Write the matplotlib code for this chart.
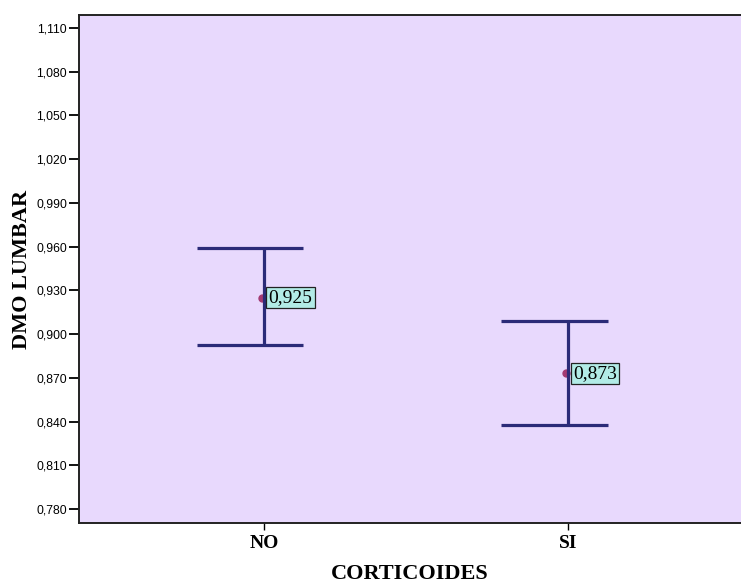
import matplotlib
matplotlib.use("Agg")
import matplotlib.pyplot as plt

categories = ["NO", "SI"]
means = [0.925, 0.873]
upper = [0.959, 0.909]
lower = [0.8925, 0.8375]
mean_labels = ["0,925", "0,873"]
yticks = [0.780, 0.810, 0.840, 0.870, 0.900, 0.930, 0.960, 0.990, 1.020, 1.050, 1.080, 1.110]
ytick_labels = ["0,780", "0,810", "0,840", "0,870", "0,900", "0,930", "0,960", "0,990", "1,020", "1,050", "1,080", "1,110"]

fig = plt.figure(figsize=(7.41, 5.83), dpi=100)
ax = fig.add_axes([79/741, (583-523)/583, (741-79)/741, (523-15)/583])
ax.set_facecolor("#e8d9fd")

xs = [1, 2]
navy = "#2b2b78"
for x, m, lo, hi in zip(xs, means, lower, upper):
    ax.plot([x, x], [lo, hi], color=navy, lw=2.3, solid_capstyle="butt", zorder=3)
    ax.plot([x - 0.22, x + 0.13], [hi, hi], color=navy, lw=2.3, solid_capstyle="butt", zorder=3)
    ax.plot([x - 0.22, x + 0.13], [lo, lo], color=navy, lw=2.3, solid_capstyle="butt", zorder=3)

ax.plot([x - 0.006 for x in xs], means, "o", color="#a33a72", ms=5, zorder=2)
for x, m, lab in zip(xs, means, mean_labels):
    ax.annotate(lab, (x, m), xytext=(3.5, 0), textcoords="offset points",
                ha="left", va="center", fontsize=14, family="Liberation Serif",
                bbox=dict(boxstyle="square,pad=0.12", fc="#b2ebe6", ec="#222222", lw=0.9),
                zorder=4)

ax.set_xlim(0.392, 2.569)
ax.set_ylim(0.7704, 1.1189)
ax.set_yticks(yticks)
ax.set_yticklabels(ytick_labels, fontsize=8.8, family="Liberation Sans")
ax.set_xticks(xs)
ax.set_xticklabels(categories, fontsize=14, family="Liberation Serif", fontweight="bold")
ax.tick_params(axis="y", length=7, width=1.3, pad=1.5)
ax.tick_params(axis="x", length=5, width=1.0, pad=4)

for s in ["left", "bottom", "top"]:
    ax.spines[s].set_linewidth(1.4)
    ax.spines[s].set_color("#222222")
ax.spines["right"].set_visible(False)

ax.set_xlabel("CORTICOIDES", fontsize=16, family="Liberation Serif", fontweight="bold")
ax.xaxis.set_label_coords(0.5, -(564 - 523) / 508)
ax.set_ylabel("DMO LUMBAR", fontsize=16, family="Liberation Serif", fontweight="bold")
ax.yaxis.set_label_coords(-(79 - 32) / 662, 0.5)

fig.savefig("out.png", dpi=100)
